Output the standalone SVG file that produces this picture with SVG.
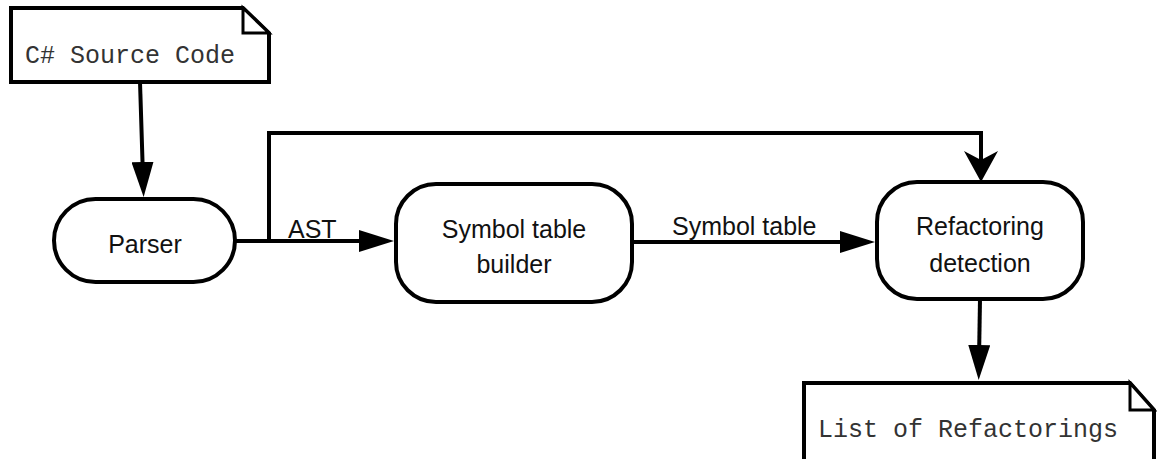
<svg xmlns="http://www.w3.org/2000/svg" width="1157" height="459" viewBox="0 0 1157 459">
  <style>
    .shape { fill: #ffffff; stroke: #000000; stroke-width: 4; stroke-linejoin: miter; }
    .fold { fill: #ffffff; stroke: #000000; stroke-width: 3; }
    .edge { fill: none; stroke: #000000; stroke-width: 4; }
    .sans { font-family: "Liberation Sans", Arial, sans-serif; font-size: 25px; fill: #111111; }
    .mono { font-family: "Liberation Mono", "Courier New", monospace; font-size: 25px; fill: #333333; }
  </style>
  <defs>
    <marker id="arrow" markerUnits="userSpaceOnUse" markerWidth="36" markerHeight="22" viewBox="0 0 36 22" refX="15" refY="11" orient="auto">
      <path d="M0,0 L35,11 L0,22 z" fill="#000000"/>
    </marker>
    <marker id="notched" markerUnits="userSpaceOnUse" markerWidth="32" markerHeight="34" viewBox="0 0 32 34" refX="20" refY="17" orient="auto">
      <path d="M0,0 L31,17 L0,34 L9,17 z" fill="#000000"/>
    </marker>
  </defs>

  <!-- connectors -->
  <g id="connectors">
    <line class="edge" x1="140" y1="82" x2="143" y2="177" marker-end="url(#arrow)"/>
    <line class="edge" x1="235" y1="241" x2="374" y2="241" marker-end="url(#arrow)"/>
    <polyline class="edge" points="269,241 269,133 981,133 981,171" marker-end="url(#notched)"/>
    <line class="edge" x1="632" y1="242" x2="855" y2="242" marker-end="url(#arrow)"/>
    <line class="edge" x1="980" y1="299" x2="979" y2="360" marker-end="url(#arrow)"/>
    <text class="sans" x="288" y="238">AST</text>
    <text class="sans" x="672" y="235">Symbol table</text>
  </g>

  <!-- input document -->
  <g id="source-code">
    <path class="shape" d="M11,8 L243,8 L269,33 L269,82 L11,82 Z"/>
    <path class="fold" d="M243,8 L243,33 L269,33 Z"/>
    <text class="mono" x="25" y="63">C# Source Code</text>
  </g>

  <!-- processing steps -->
  <g id="parser">
    <rect class="shape" x="54" y="199" width="181" height="83" rx="41.5" ry="41.5"/>
    <text class="sans" x="145" y="253" text-anchor="middle">Parser</text>
  </g>

  <g id="symbol-table-builder">
    <rect class="shape" x="396" y="184" width="236" height="118" rx="40" ry="40"/>
    <text class="sans" x="514" y="238" text-anchor="middle">Symbol table</text>
    <text class="sans" x="514" y="273" text-anchor="middle">builder</text>
  </g>

  <g id="refactoring-detection">
    <rect class="shape" x="877" y="182" width="206" height="117" rx="40" ry="40"/>
    <text class="sans" x="980" y="235" text-anchor="middle">Refactoring</text>
    <text class="sans" x="980" y="272" text-anchor="middle">detection</text>
  </g>

  <!-- output document -->
  <g id="refactoring-list">
    <path class="shape" d="M804,383 L1130,383 L1154,410 L1154,470 L804,470 Z"/>
    <path class="fold" d="M1130,383 L1130,410 L1154,410 Z"/>
    <text class="mono" x="818" y="437">List of Refactorings</text>
  </g>
</svg>
